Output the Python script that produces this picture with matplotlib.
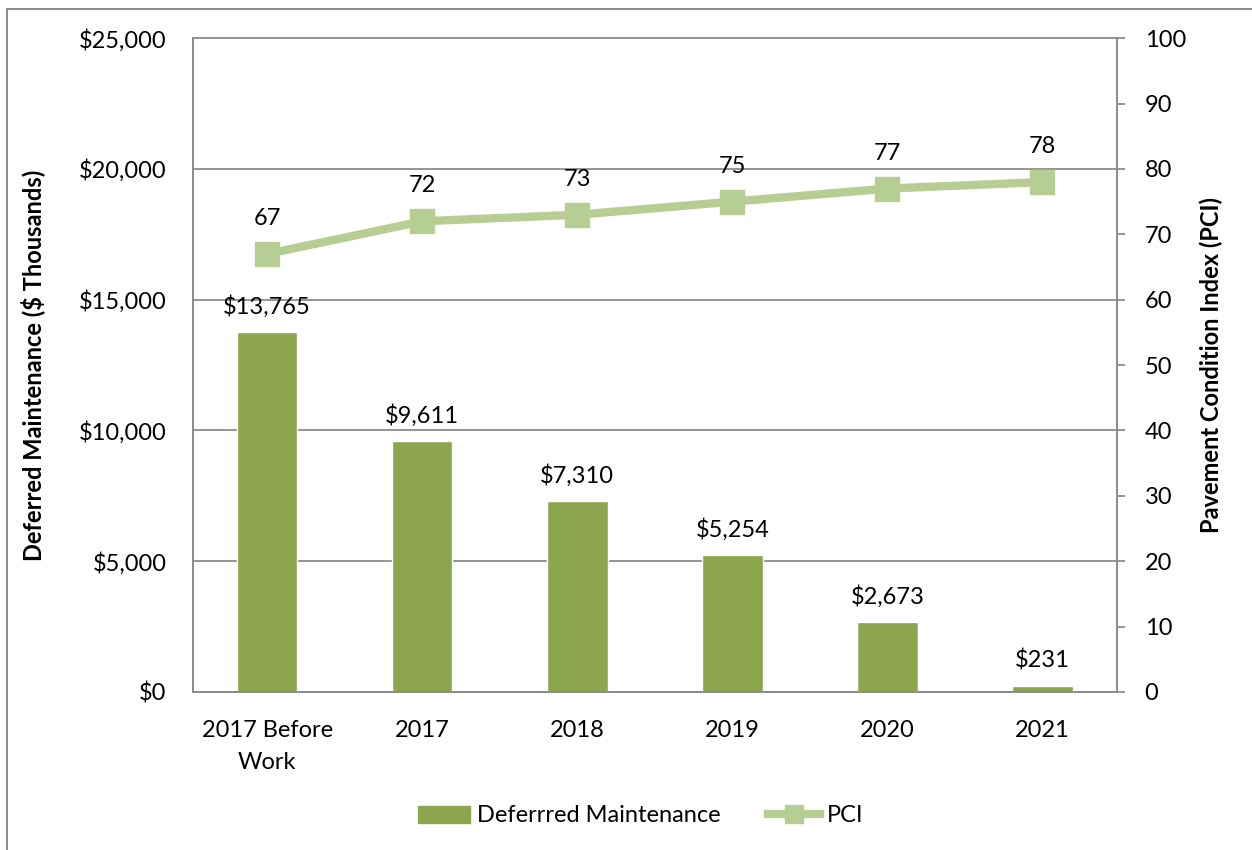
import matplotlib.pyplot as plt
import matplotlib.patches as mpatches
from matplotlib.lines import Line2D
import numpy as np

categories = ["2017 Before\nWork", "2017", "2018", "2019", "2020", "2021"]
deferred = [13765, 9611, 7310, 5254, 2673, 231]
pci = [67, 72, 73, 75, 77, 78]

BAR_COLOR = "#8BA64E"
LINE_COLOR = "#B6CD93"
GRID = "#8C8C8C"

plt.rcParams["font.family"] = ["Lato", "DejaVu Sans"]
plt.rcParams["font.size"] = 17

fig = plt.figure(figsize=(12.52, 8.5), dpi=100)
ax = fig.add_axes([0.154, 0.186, 0.738, 0.769])
ax2 = ax.twinx()

x = np.arange(len(categories))
ax.bar(x, deferred, width=0.39, color=BAR_COLOR, edgecolor="white", linewidth=1, zorder=3)
for xi, v in zip(x, deferred):
    ax.annotate(f"${v:,}", (xi, v), xytext=(0, 10), textcoords="offset points",
                ha="center", va="bottom")

ax.set_xlim(-0.48, len(categories) - 0.52)
ax.set_ylim(0, 25000)
ax.set_yticks(range(0, 25001, 5000))
ax.set_yticklabels([f"${v:,}" for v in range(0, 25001, 5000)])
ax.set_xticks(x)
ax.set_xticklabels(categories, linespacing=1.65)
ax.tick_params(axis="x", length=0, pad=20)
ax.tick_params(axis="y", length=0, pad=19)
ax.yaxis.grid(True, color=GRID, linewidth=1.3, zorder=0)
ax.set_axisbelow(True)
ax.set_ylabel("Deferred Maintenance ($ Thousands)", fontweight="bold", labelpad=24)

ax2.plot(x, pci, color=LINE_COLOR, linewidth=6, marker="s", markersize=17,
         markerfacecolor=LINE_COLOR, markeredgecolor=LINE_COLOR, zorder=4)
for xi, v in zip(x, pci):
    ax2.annotate(str(v), (xi, v), xytext=(0, 18), textcoords="offset points",
                 ha="center", va="bottom")
ax2.set_ylim(0, 100)
ax2.set_yticks(range(0, 101, 10))
ax2.tick_params(axis="y", direction="out", length=6, color=GRID, width=1.3, pad=14)
ax2.set_ylabel("Pavement Condition Index (PCI)", fontweight="bold", labelpad=10)

for a in (ax, ax2):
    a.spines["top"].set_visible(False)
    for side in ("left", "bottom", "right"):
        a.spines[side].set_color(GRID)
        a.spines[side].set_linewidth(1.3)
ax.spines["top"].set_visible(True)
ax.spines["top"].set_color(GRID)
ax.spines["top"].set_linewidth(1.3)

handles = [
    mpatches.Patch(color=BAR_COLOR, label="Deferrred Maintenance"),
    Line2D([0], [0], color=LINE_COLOR, linewidth=6, marker="s", markersize=13,
           markerfacecolor=LINE_COLOR, markeredgecolor=LINE_COLOR, label="PCI"),
]
fig.legend(handles=handles, loc="center", bbox_to_anchor=(0.512, 0.04), ncol=2,
           frameon=False, handlelength=2.2, columnspacing=2.0, handletextpad=0.3)

# outer chart frame
fig.patches.append(mpatches.Rectangle((0.0056, -0.1), 1.1, 1.089, transform=fig.transFigure,
                                      fill=False, edgecolor=GRID, linewidth=1.5))

fig.savefig("out.png", dpi=100)
